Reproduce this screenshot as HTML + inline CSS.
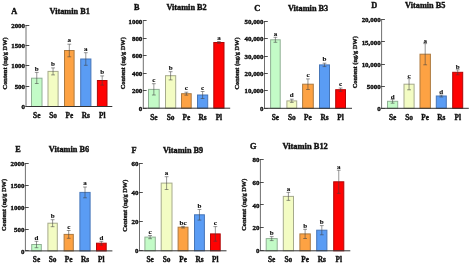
<!DOCTYPE html>
<html><head><meta charset="utf-8"><style>
html,body{margin:0;padding:0;background:#fff;width:470px;height:264px;overflow:hidden}
svg{display:block;filter:blur(0.35px)}
text{font-family:"Liberation Serif", serif;font-weight:bold;fill:#111;stroke:#111;stroke-width:0.38px}
.L{stroke-width:0.12px}
</style></head><body>
<svg width="470" height="264" viewBox="0 0 470 264">
<rect width="470" height="264" fill="#fff"/>
<rect x="31.50" y="78.20" width="10.50" height="28.30" fill="#c3fbc7" stroke="#90b094" stroke-width="1"/>
<path d="M36.75 72.40V83.50M34.85 72.40H38.65M34.85 83.50H38.65" stroke="#404040" stroke-width="0.55" fill="none"/>
<text class="L" transform="translate(36.75 70.60) scale(1.0 1)" font-size="7" text-anchor="middle">b</text>
<text transform="translate(36.75 117.90) scale(1.0 1)" font-size="7.3" text-anchor="middle">Se</text>
<rect x="48.00" y="71.40" width="10.10" height="35.10" fill="#f3fcc3" stroke="#a6aa8c" stroke-width="1"/>
<path d="M53.05 67.90V74.90M51.15 67.90H54.95M51.15 74.90H54.95" stroke="#404040" stroke-width="0.55" fill="none"/>
<text class="L" transform="translate(53.05 66.10) scale(1.0 1)" font-size="7" text-anchor="middle">b</text>
<text transform="translate(53.05 117.90) scale(1.0 1)" font-size="7.3" text-anchor="middle">So</text>
<rect x="64.50" y="50.50" width="9.60" height="56.00" fill="#fda243" stroke="#ad7a40" stroke-width="1"/>
<path d="M69.30 44.20V56.80M67.40 44.20H71.20M67.40 56.80H71.20" stroke="#404040" stroke-width="0.55" fill="none"/>
<text class="L" transform="translate(69.30 42.40) scale(1.0 1)" font-size="7" text-anchor="middle">a</text>
<text transform="translate(69.30 117.90) scale(1.0 1)" font-size="7.3" text-anchor="middle">Pe</text>
<rect x="80.70" y="59.00" width="10.20" height="47.50" fill="#5a9cf4" stroke="#4676b8" stroke-width="1"/>
<path d="M85.80 52.70V65.30M83.90 52.70H87.70M83.90 65.30H87.70" stroke="#404040" stroke-width="0.55" fill="none"/>
<text class="L" transform="translate(85.80 50.90) scale(1.0 1)" font-size="7" text-anchor="middle">a</text>
<text transform="translate(85.80 117.90) scale(1.0 1)" font-size="7.3" text-anchor="middle">Rs</text>
<rect x="97.40" y="80.50" width="9.60" height="26.00" fill="#fe0202" stroke="#b00808" stroke-width="1"/>
<path d="M102.20 75.90V85.10M100.30 75.90H104.10M100.30 85.10H104.10" stroke="#404040" stroke-width="0.55" fill="none"/>
<text class="L" transform="translate(102.20 74.10) scale(1.0 1)" font-size="7" text-anchor="middle">b</text>
<text transform="translate(102.20 117.90) scale(1.0 1)" font-size="7.3" text-anchor="middle">Pl</text>
<path d="M26.00 25.10V106.50" stroke="#707070" stroke-width="1.0" fill="none"/>
<path d="M25.50 106.50H112.30" stroke="#333" stroke-width="1.0" fill="none"/>
<path d="M25.50 106.50H29.30" stroke="#3a3a3a" stroke-width="0.9"/>
<text transform="translate(25.00 109.10) scale(1.0 1)" font-size="6.9" text-anchor="end">0</text>
<path d="M25.50 86.50H29.30" stroke="#3a3a3a" stroke-width="0.9"/>
<text transform="translate(25.00 88.75) scale(1.0 1)" font-size="6.9" text-anchor="end">500</text>
<path d="M25.50 65.50H29.30" stroke="#3a3a3a" stroke-width="0.9"/>
<text transform="translate(25.00 68.40) scale(1.0 1)" font-size="6.9" text-anchor="end">1000</text>
<path d="M25.50 45.50H29.30" stroke="#3a3a3a" stroke-width="0.9"/>
<text transform="translate(25.00 48.05) scale(1.0 1)" font-size="6.9" text-anchor="end">1500</text>
<path d="M25.50 25.50H29.30" stroke="#3a3a3a" stroke-width="0.9"/>
<text transform="translate(25.00 27.70) scale(1.0 1)" font-size="6.9" text-anchor="end">2000</text>
<text transform="translate(11.20 14.20) scale(1.02 1)" font-size="8.1">A</text>
<text transform="translate(49.50 13.80) scale(1.02 1)" font-size="8.1">Vitamin B1</text>
<text transform="translate(7.10 63.40) scale(0.85 1) rotate(-90)" font-size="6.4" text-anchor="middle">Content (ng/g DW)</text>
<rect x="148.50" y="89.40" width="10.70" height="18.80" fill="#c3fbc7" stroke="#90b094" stroke-width="1"/>
<path d="M153.85 83.70V95.00M151.95 83.70H155.75M151.95 95.00H155.75" stroke="#404040" stroke-width="0.55" fill="none"/>
<text class="L" transform="translate(153.85 81.90) scale(1.0 1)" font-size="7" text-anchor="middle">c</text>
<text transform="translate(153.85 119.60) scale(1.0 1)" font-size="7.3" text-anchor="middle">Se</text>
<rect x="165.50" y="75.70" width="10.20" height="32.50" fill="#f3fcc3" stroke="#a6aa8c" stroke-width="1"/>
<path d="M170.60 71.70V79.90M168.70 71.70H172.50M168.70 79.90H172.50" stroke="#404040" stroke-width="0.55" fill="none"/>
<text class="L" transform="translate(170.60 69.90) scale(1.0 1)" font-size="7" text-anchor="middle">b</text>
<text transform="translate(170.60 119.60) scale(1.0 1)" font-size="7.3" text-anchor="middle">So</text>
<rect x="181.50" y="93.70" width="9.70" height="14.50" fill="#fda243" stroke="#ad7a40" stroke-width="1"/>
<path d="M186.35 92.20V95.20M184.45 92.20H188.25M184.45 95.20H188.25" stroke="#404040" stroke-width="0.55" fill="none"/>
<text class="L" transform="translate(186.35 90.40) scale(1.0 1)" font-size="7" text-anchor="middle">c</text>
<text transform="translate(186.35 119.60) scale(1.0 1)" font-size="7.3" text-anchor="middle">Pe</text>
<rect x="197.50" y="95.00" width="10.20" height="13.20" fill="#5a9cf4" stroke="#4676b8" stroke-width="1"/>
<path d="M202.60 91.50V98.50M200.70 91.50H204.50M200.70 98.50H204.50" stroke="#404040" stroke-width="0.55" fill="none"/>
<text class="L" transform="translate(202.60 89.70) scale(1.0 1)" font-size="7" text-anchor="middle">c</text>
<text transform="translate(202.60 119.60) scale(1.0 1)" font-size="7.3" text-anchor="middle">Rs</text>
<rect x="213.80" y="42.50" width="10.20" height="65.70" fill="#fe0202" stroke="#b00808" stroke-width="1"/>
<path d="M218.90 41.50V43.50M217.00 41.50H220.80M217.00 43.50H220.80" stroke="#404040" stroke-width="0.55" fill="none"/>
<text class="L" transform="translate(218.90 39.70) scale(1.0 1)" font-size="7" text-anchor="middle">a</text>
<text transform="translate(218.90 119.60) scale(1.0 1)" font-size="7.3" text-anchor="middle">Pl</text>
<path d="M143.30 20.90V108.20" stroke="#707070" stroke-width="1.0" fill="none"/>
<path d="M142.80 108.20H230.20" stroke="#333" stroke-width="1.0" fill="none"/>
<path d="M142.80 108.50H146.60" stroke="#3a3a3a" stroke-width="0.9"/>
<text transform="translate(142.30 110.80) scale(1.0 1)" font-size="6.9" text-anchor="end">0</text>
<path d="M142.80 90.50H146.60" stroke="#3a3a3a" stroke-width="0.9"/>
<text transform="translate(142.30 93.34) scale(1.0 1)" font-size="6.9" text-anchor="end">200</text>
<path d="M142.80 73.50H146.60" stroke="#3a3a3a" stroke-width="0.9"/>
<text transform="translate(142.30 75.88) scale(1.0 1)" font-size="6.9" text-anchor="end">400</text>
<path d="M142.80 55.50H146.60" stroke="#3a3a3a" stroke-width="0.9"/>
<text transform="translate(142.30 58.42) scale(1.0 1)" font-size="6.9" text-anchor="end">600</text>
<path d="M142.80 38.50H146.60" stroke="#3a3a3a" stroke-width="0.9"/>
<text transform="translate(142.30 40.96) scale(1.0 1)" font-size="6.9" text-anchor="end">800</text>
<path d="M142.80 20.50H146.60" stroke="#3a3a3a" stroke-width="0.9"/>
<text transform="translate(142.30 23.50) scale(1.0 1)" font-size="6.9" text-anchor="end">1000</text>
<text transform="translate(134.00 10.00) scale(1.02 1)" font-size="8.1">B</text>
<text transform="translate(166.40 10.20) scale(1.02 1)" font-size="8.1">Vitamin B2</text>
<text transform="translate(125.20 63.20) scale(0.85 1) rotate(-90)" font-size="6.4" text-anchor="middle">Content (ng/g DW)</text>
<rect x="270.60" y="39.80" width="9.60" height="68.50" fill="#c3fbc7" stroke="#90b094" stroke-width="1"/>
<path d="M275.40 37.30V42.30M273.50 37.30H277.30M273.50 42.30H277.30" stroke="#404040" stroke-width="0.55" fill="none"/>
<text class="L" transform="translate(275.40 35.50) scale(1.0 1)" font-size="7" text-anchor="middle">a</text>
<text transform="translate(275.40 119.70) scale(1.0 1)" font-size="7.3" text-anchor="middle">Se</text>
<rect x="286.90" y="100.90" width="9.80" height="7.40" fill="#f3fcc3" stroke="#a6aa8c" stroke-width="1"/>
<path d="M291.80 99.20V102.40M289.90 99.20H293.70M289.90 102.40H293.70" stroke="#404040" stroke-width="0.55" fill="none"/>
<text class="L" transform="translate(291.80 97.40) scale(1.0 1)" font-size="7" text-anchor="middle">d</text>
<text transform="translate(291.80 119.70) scale(1.0 1)" font-size="7.3" text-anchor="middle">So</text>
<rect x="302.60" y="84.20" width="10.70" height="24.10" fill="#fda243" stroke="#ad7a40" stroke-width="1"/>
<path d="M307.95 78.90V89.50M306.05 78.90H309.85M306.05 89.50H309.85" stroke="#404040" stroke-width="0.55" fill="none"/>
<text class="L" transform="translate(307.95 77.10) scale(1.0 1)" font-size="7" text-anchor="middle">c</text>
<text transform="translate(307.95 119.70) scale(1.0 1)" font-size="7.3" text-anchor="middle">Pe</text>
<rect x="319.50" y="64.90" width="10.00" height="43.40" fill="#5a9cf4" stroke="#4676b8" stroke-width="1"/>
<path d="M324.50 63.20V66.60M322.60 63.20H326.40M322.60 66.60H326.40" stroke="#404040" stroke-width="0.55" fill="none"/>
<text class="L" transform="translate(324.50 61.40) scale(1.0 1)" font-size="7" text-anchor="middle">b</text>
<text transform="translate(324.50 119.70) scale(1.0 1)" font-size="7.3" text-anchor="middle">Rs</text>
<rect x="335.70" y="89.70" width="9.80" height="18.60" fill="#fe0202" stroke="#b00808" stroke-width="1"/>
<path d="M340.60 88.00V91.40M338.70 88.00H342.50M338.70 91.40H342.50" stroke="#404040" stroke-width="0.55" fill="none"/>
<text class="L" transform="translate(340.60 86.20) scale(1.0 1)" font-size="7" text-anchor="middle">c</text>
<text transform="translate(340.60 119.70) scale(1.0 1)" font-size="7.3" text-anchor="middle">Pl</text>
<path d="M264.50 21.20V108.30" stroke="#707070" stroke-width="1.0" fill="none"/>
<path d="M264.00 108.30H352.00" stroke="#333" stroke-width="1.0" fill="none"/>
<path d="M264.00 108.50H267.80" stroke="#3a3a3a" stroke-width="0.9"/>
<text transform="translate(263.50 110.90) scale(1.0 1)" font-size="6.9" text-anchor="end">0</text>
<path d="M264.00 90.50H267.80" stroke="#3a3a3a" stroke-width="0.9"/>
<text transform="translate(263.50 93.48) scale(1.0 1)" font-size="6.9" text-anchor="end">10,000</text>
<path d="M264.00 73.50H267.80" stroke="#3a3a3a" stroke-width="0.9"/>
<text transform="translate(263.50 76.06) scale(1.0 1)" font-size="6.9" text-anchor="end">20,000</text>
<path d="M264.00 56.50H267.80" stroke="#3a3a3a" stroke-width="0.9"/>
<text transform="translate(263.50 58.64) scale(1.0 1)" font-size="6.9" text-anchor="end">30,000</text>
<path d="M264.00 38.50H267.80" stroke="#3a3a3a" stroke-width="0.9"/>
<text transform="translate(263.50 41.22) scale(1.0 1)" font-size="6.9" text-anchor="end">40,000</text>
<path d="M264.00 21.50H267.80" stroke="#3a3a3a" stroke-width="0.9"/>
<text transform="translate(263.50 23.80) scale(1.0 1)" font-size="6.9" text-anchor="end">50,000</text>
<text transform="translate(254.30 10.50) scale(1.02 1)" font-size="8.1">C</text>
<text transform="translate(287.90 10.50) scale(1.02 1)" font-size="8.1">Vitamin B3</text>
<text transform="translate(239.10 63.50) scale(0.85 1) rotate(-90)" font-size="6.4" text-anchor="middle">Content (ng/g DW)</text>
<rect x="387.50" y="101.30" width="10.20" height="7.00" fill="#c3fbc7" stroke="#90b094" stroke-width="1"/>
<path d="M392.60 99.40V103.20M390.70 99.40H394.50M390.70 103.20H394.50" stroke="#404040" stroke-width="0.55" fill="none"/>
<text class="L" transform="translate(392.60 98.60) scale(1.0 1)" font-size="7" text-anchor="middle">d</text>
<text transform="translate(392.60 119.70) scale(1.0 1)" font-size="7.3" text-anchor="middle">Se</text>
<rect x="404.00" y="84.20" width="10.10" height="24.10" fill="#f3fcc3" stroke="#a6aa8c" stroke-width="1"/>
<path d="M409.05 78.60V89.80M407.15 78.60H410.95M407.15 89.80H410.95" stroke="#404040" stroke-width="0.55" fill="none"/>
<text class="L" transform="translate(409.05 77.80) scale(1.0 1)" font-size="7" text-anchor="middle">c</text>
<text transform="translate(409.05 119.70) scale(1.0 1)" font-size="7.3" text-anchor="middle">So</text>
<rect x="420.00" y="54.20" width="10.40" height="54.10" fill="#fda243" stroke="#ad7a40" stroke-width="1"/>
<path d="M425.20 43.60V64.80M423.30 43.60H427.10M423.30 64.80H427.10" stroke="#404040" stroke-width="0.55" fill="none"/>
<text class="L" transform="translate(425.20 42.80) scale(1.0 1)" font-size="7" text-anchor="middle">a</text>
<text transform="translate(425.20 119.70) scale(1.0 1)" font-size="7.3" text-anchor="middle">Pe</text>
<rect x="436.30" y="96.00" width="10.00" height="12.30" fill="#5a9cf4" stroke="#4676b8" stroke-width="1"/>
<path d="M441.30 95.00V97.00M439.40 95.00H443.20M439.40 97.00H443.20" stroke="#404040" stroke-width="0.55" fill="none"/>
<text class="L" transform="translate(441.30 94.20) scale(1.0 1)" font-size="7" text-anchor="middle">d</text>
<text transform="translate(441.30 119.70) scale(1.0 1)" font-size="7.3" text-anchor="middle">Rs</text>
<rect x="452.70" y="72.30" width="10.00" height="36.00" fill="#fe0202" stroke="#b00808" stroke-width="1"/>
<path d="M457.70 69.80V74.80M455.80 69.80H459.60M455.80 74.80H459.60" stroke="#404040" stroke-width="0.55" fill="none"/>
<text class="L" transform="translate(457.70 69.00) scale(1.0 1)" font-size="7" text-anchor="middle">b</text>
<text transform="translate(457.70 119.70) scale(1.0 1)" font-size="7.3" text-anchor="middle">Pl</text>
<path d="M381.60 19.80V108.30" stroke="#707070" stroke-width="1.0" fill="none"/>
<path d="M381.10 108.30H468.80" stroke="#333" stroke-width="1.0" fill="none"/>
<path d="M381.10 108.50H384.90" stroke="#3a3a3a" stroke-width="0.9"/>
<text transform="translate(380.60 110.90) scale(1.0 1)" font-size="6.9" text-anchor="end">0</text>
<path d="M381.10 86.50H384.90" stroke="#3a3a3a" stroke-width="0.9"/>
<text transform="translate(380.60 88.77) scale(1.0 1)" font-size="6.9" text-anchor="end">5000</text>
<path d="M381.10 64.50H384.90" stroke="#3a3a3a" stroke-width="0.9"/>
<text transform="translate(380.60 66.65) scale(1.0 1)" font-size="6.9" text-anchor="end">10,000</text>
<path d="M381.10 41.50H384.90" stroke="#3a3a3a" stroke-width="0.9"/>
<text transform="translate(380.60 44.52) scale(1.0 1)" font-size="6.9" text-anchor="end">15,000</text>
<path d="M381.10 19.50H384.90" stroke="#3a3a3a" stroke-width="0.9"/>
<text transform="translate(380.60 22.40) scale(1.0 1)" font-size="6.9" text-anchor="end">20,000</text>
<text transform="translate(371.30 8.30) scale(1.02 1)" font-size="8.1">D</text>
<text transform="translate(405.10 8.30) scale(1.02 1)" font-size="8.1">Vitamin B5</text>
<text transform="translate(357.40 62.20) scale(0.85 1) rotate(-90)" font-size="6.4" text-anchor="middle">Content (ng/g DW)</text>
<rect x="31.70" y="244.50" width="9.60" height="6.40" fill="#c3fbc7" stroke="#90b094" stroke-width="1"/>
<path d="M36.50 241.30V247.70M34.60 241.30H38.40M34.60 247.70H38.40" stroke="#404040" stroke-width="0.55" fill="none"/>
<text class="L" transform="translate(36.50 239.50) scale(1.0 1)" font-size="7" text-anchor="middle">d</text>
<text transform="translate(36.50 261.90) scale(1.0 1)" font-size="7.3" text-anchor="middle">Se</text>
<rect x="47.90" y="223.20" width="9.40" height="27.70" fill="#f3fcc3" stroke="#a6aa8c" stroke-width="1"/>
<path d="M52.60 219.70V226.70M50.70 219.70H54.50M50.70 226.70H54.50" stroke="#404040" stroke-width="0.55" fill="none"/>
<text class="L" transform="translate(52.60 217.90) scale(1.0 1)" font-size="7" text-anchor="middle">b</text>
<text transform="translate(52.60 261.90) scale(1.0 1)" font-size="7.3" text-anchor="middle">So</text>
<rect x="64.10" y="234.40" width="9.20" height="16.50" fill="#fda243" stroke="#ad7a40" stroke-width="1"/>
<path d="M68.70 230.50V238.30M66.80 230.50H70.60M66.80 238.30H70.60" stroke="#404040" stroke-width="0.55" fill="none"/>
<text class="L" transform="translate(68.70 228.70) scale(1.0 1)" font-size="7" text-anchor="middle">c</text>
<text transform="translate(68.70 261.90) scale(1.0 1)" font-size="7.3" text-anchor="middle">Pe</text>
<rect x="79.90" y="192.40" width="10.20" height="58.50" fill="#5a9cf4" stroke="#4676b8" stroke-width="1"/>
<path d="M85.00 187.00V197.80M83.10 187.00H86.90M83.10 197.80H86.90" stroke="#404040" stroke-width="0.55" fill="none"/>
<text class="L" transform="translate(85.00 185.20) scale(1.0 1)" font-size="7" text-anchor="middle">a</text>
<text transform="translate(85.00 261.90) scale(1.0 1)" font-size="7.3" text-anchor="middle">Rs</text>
<rect x="96.50" y="243.20" width="9.70" height="7.70" fill="#fe0202" stroke="#b00808" stroke-width="1"/>
<path d="M101.35 241.30V245.10M99.45 241.30H103.25M99.45 245.10H103.25" stroke="#404040" stroke-width="0.55" fill="none"/>
<text class="L" transform="translate(101.35 239.50) scale(1.0 1)" font-size="7" text-anchor="middle">d</text>
<text transform="translate(101.35 261.90) scale(1.0 1)" font-size="7.3" text-anchor="middle">Pl</text>
<path d="M25.40 163.60V250.90" stroke="#707070" stroke-width="1.0" fill="none"/>
<path d="M24.90 250.90H112.40" stroke="#333" stroke-width="1.0" fill="none"/>
<path d="M24.90 250.50H28.70" stroke="#3a3a3a" stroke-width="0.9"/>
<text transform="translate(24.40 253.50) scale(1.0 1)" font-size="6.9" text-anchor="end">0</text>
<path d="M24.90 229.50H28.70" stroke="#3a3a3a" stroke-width="0.9"/>
<text transform="translate(24.40 231.67) scale(1.0 1)" font-size="6.9" text-anchor="end">500</text>
<path d="M24.90 207.50H28.70" stroke="#3a3a3a" stroke-width="0.9"/>
<text transform="translate(24.40 209.85) scale(1.0 1)" font-size="6.9" text-anchor="end">1000</text>
<path d="M24.90 185.50H28.70" stroke="#3a3a3a" stroke-width="0.9"/>
<text transform="translate(24.40 188.03) scale(1.0 1)" font-size="6.9" text-anchor="end">1500</text>
<path d="M24.90 163.50H28.70" stroke="#3a3a3a" stroke-width="0.9"/>
<text transform="translate(24.40 166.20) scale(1.0 1)" font-size="6.9" text-anchor="end">2000</text>
<text transform="translate(15.30 152.10) scale(1.02 1)" font-size="8.1">E</text>
<text transform="translate(48.80 152.10) scale(1.02 1)" font-size="8.1">Vitamin B6</text>
<text transform="translate(5.80 205.00) scale(0.85 1) rotate(-90)" font-size="6.4" text-anchor="middle">Content (ng/g DW)</text>
<rect x="144.90" y="237.10" width="10.40" height="13.70" fill="#c3fbc7" stroke="#90b094" stroke-width="1"/>
<path d="M150.10 235.50V238.70M148.20 235.50H152.00M148.20 238.70H152.00" stroke="#404040" stroke-width="0.55" fill="none"/>
<text class="L" transform="translate(150.10 233.70) scale(1.0 1)" font-size="7" text-anchor="middle">c</text>
<text transform="translate(150.10 261.80) scale(1.0 1)" font-size="7.3" text-anchor="middle">Se</text>
<rect x="161.20" y="183.10" width="10.80" height="67.70" fill="#f3fcc3" stroke="#a6aa8c" stroke-width="1"/>
<path d="M166.60 176.70V189.50M164.70 176.70H168.50M164.70 189.50H168.50" stroke="#404040" stroke-width="0.55" fill="none"/>
<text class="L" transform="translate(166.60 174.90) scale(1.0 1)" font-size="7" text-anchor="middle">a</text>
<text transform="translate(166.60 261.80) scale(1.0 1)" font-size="7.3" text-anchor="middle">So</text>
<rect x="178.10" y="227.20" width="9.90" height="23.60" fill="#fda243" stroke="#ad7a40" stroke-width="1"/>
<path d="M183.05 226.40V228.00M181.15 226.40H184.95M181.15 228.00H184.95" stroke="#404040" stroke-width="0.55" fill="none"/>
<text class="L" transform="translate(183.05 224.60) scale(1.0 1)" font-size="7" text-anchor="middle">bc</text>
<text transform="translate(183.05 261.80) scale(1.0 1)" font-size="7.3" text-anchor="middle">Pe</text>
<rect x="194.50" y="214.80" width="9.90" height="36.00" fill="#5a9cf4" stroke="#4676b8" stroke-width="1"/>
<path d="M199.45 209.50V220.10M197.55 209.50H201.35M197.55 220.10H201.35" stroke="#404040" stroke-width="0.55" fill="none"/>
<text class="L" transform="translate(199.45 207.70) scale(1.0 1)" font-size="7" text-anchor="middle">b</text>
<text transform="translate(199.45 261.80) scale(1.0 1)" font-size="7.3" text-anchor="middle">Rs</text>
<rect x="210.50" y="233.90" width="9.70" height="16.90" fill="#fe0202" stroke="#b00808" stroke-width="1"/>
<path d="M215.35 226.60V241.20M213.45 226.60H217.25M213.45 241.20H217.25" stroke="#404040" stroke-width="0.55" fill="none"/>
<text class="L" transform="translate(215.35 224.80) scale(1.0 1)" font-size="7" text-anchor="middle">c</text>
<text transform="translate(215.35 261.80) scale(1.0 1)" font-size="7.3" text-anchor="middle">Pl</text>
<path d="M139.50 163.50V250.80" stroke="#707070" stroke-width="1.0" fill="none"/>
<path d="M139.00 250.80H226.50" stroke="#333" stroke-width="1.0" fill="none"/>
<path d="M139.00 250.50H142.80" stroke="#3a3a3a" stroke-width="0.9"/>
<text transform="translate(138.50 253.40) scale(1.0 1)" font-size="6.9" text-anchor="end">0</text>
<path d="M139.00 221.50H142.80" stroke="#3a3a3a" stroke-width="0.9"/>
<text transform="translate(138.50 224.30) scale(1.0 1)" font-size="6.9" text-anchor="end">20</text>
<path d="M139.00 192.50H142.80" stroke="#3a3a3a" stroke-width="0.9"/>
<text transform="translate(138.50 195.20) scale(1.0 1)" font-size="6.9" text-anchor="end">40</text>
<path d="M139.00 163.50H142.80" stroke="#3a3a3a" stroke-width="0.9"/>
<text transform="translate(138.50 166.10) scale(1.0 1)" font-size="6.9" text-anchor="end">60</text>
<text transform="translate(131.60 152.80) scale(1.02 1)" font-size="8.1">F</text>
<text transform="translate(162.90 152.50) scale(1.02 1)" font-size="8.1">Vitamin B9</text>
<text transform="translate(127.10 205.70) scale(0.85 1) rotate(-90)" font-size="6.4" text-anchor="middle">Content (ng/g DW)</text>
<rect x="266.20" y="238.60" width="11.00" height="12.20" fill="#c3fbc7" stroke="#90b094" stroke-width="1"/>
<path d="M271.70 236.60V240.60M269.80 236.60H273.60M269.80 240.60H273.60" stroke="#404040" stroke-width="0.55" fill="none"/>
<text class="L" transform="translate(271.70 235.40) scale(1.0 1)" font-size="7" text-anchor="middle">b</text>
<text transform="translate(271.70 261.80) scale(1.0 1)" font-size="7.3" text-anchor="middle">Se</text>
<rect x="283.30" y="196.40" width="10.20" height="54.40" fill="#f3fcc3" stroke="#a6aa8c" stroke-width="1"/>
<path d="M288.40 192.40V200.40M286.50 192.40H290.30M286.50 200.40H290.30" stroke="#404040" stroke-width="0.55" fill="none"/>
<text class="L" transform="translate(288.40 191.20) scale(1.0 1)" font-size="7" text-anchor="middle">a</text>
<text transform="translate(288.40 261.80) scale(1.0 1)" font-size="7.3" text-anchor="middle">So</text>
<rect x="299.90" y="233.90" width="10.40" height="16.90" fill="#fda243" stroke="#ad7a40" stroke-width="1"/>
<path d="M305.10 229.30V238.50M303.20 229.30H307.00M303.20 238.50H307.00" stroke="#404040" stroke-width="0.55" fill="none"/>
<text class="L" transform="translate(305.10 228.10) scale(1.0 1)" font-size="7" text-anchor="middle">b</text>
<text transform="translate(305.10 261.80) scale(1.0 1)" font-size="7.3" text-anchor="middle">Pe</text>
<rect x="316.70" y="230.20" width="10.20" height="20.60" fill="#5a9cf4" stroke="#4676b8" stroke-width="1"/>
<path d="M321.80 225.60V234.80M319.90 225.60H323.70M319.90 234.80H323.70" stroke="#404040" stroke-width="0.55" fill="none"/>
<text class="L" transform="translate(321.80 224.40) scale(1.0 1)" font-size="7" text-anchor="middle">b</text>
<text transform="translate(321.80 261.80) scale(1.0 1)" font-size="7.3" text-anchor="middle">Rs</text>
<rect x="333.70" y="181.80" width="10.10" height="69.00" fill="#fe0202" stroke="#b00808" stroke-width="1"/>
<path d="M338.75 170.20V193.40M336.85 170.20H340.65M336.85 193.40H340.65" stroke="#404040" stroke-width="0.55" fill="none"/>
<text class="L" transform="translate(338.75 169.00) scale(1.0 1)" font-size="7" text-anchor="middle">a</text>
<text transform="translate(338.75 261.80) scale(1.0 1)" font-size="7.3" text-anchor="middle">Pl</text>
<path d="M260.40 159.10V250.80" stroke="#707070" stroke-width="1.0" fill="none"/>
<path d="M259.90 250.80H350.30" stroke="#333" stroke-width="1.0" fill="none"/>
<path d="M259.90 250.50H263.70" stroke="#3a3a3a" stroke-width="0.9"/>
<text transform="translate(259.40 253.40) scale(1.0 1)" font-size="6.9" text-anchor="end">0</text>
<path d="M259.90 227.50H263.70" stroke="#3a3a3a" stroke-width="0.9"/>
<text transform="translate(259.40 230.47) scale(1.0 1)" font-size="6.9" text-anchor="end">20</text>
<path d="M259.90 204.50H263.70" stroke="#3a3a3a" stroke-width="0.9"/>
<text transform="translate(259.40 207.55) scale(1.0 1)" font-size="6.9" text-anchor="end">40</text>
<path d="M259.90 182.50H263.70" stroke="#3a3a3a" stroke-width="0.9"/>
<text transform="translate(259.40 184.62) scale(1.0 1)" font-size="6.9" text-anchor="end">60</text>
<path d="M259.90 159.50H263.70" stroke="#3a3a3a" stroke-width="0.9"/>
<text transform="translate(259.40 161.70) scale(1.0 1)" font-size="6.9" text-anchor="end">80</text>
<text transform="translate(250.10 148.90) scale(1.02 1)" font-size="8.1">G</text>
<text transform="translate(282.40 148.70) scale(1.045 1)" font-size="8.1">Vitamin B12</text>
<text transform="translate(245.90 204.70) scale(0.85 1) rotate(-90)" font-size="6.4" text-anchor="middle">Content (ng/g DW)</text>
</svg>
</body></html>
